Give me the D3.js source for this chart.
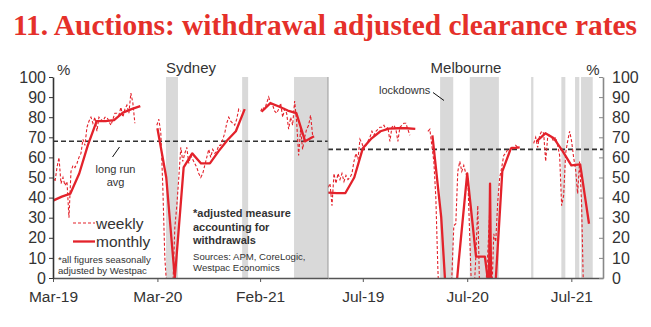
<!DOCTYPE html>
<html><head><meta charset="utf-8">
<script src="https://cdn.jsdelivr.net/npm/d3@7"></script>
<style>body{margin:0;background:#fff}svg{display:block}</style>
</head><body><svg id="c" width="651" height="327"></svg>
<script>
// ---------------- DATA ----------------
const weekStart = "2019-03-01";
// weekly withdrawal-adjusted clearance rate, % (null = no data)
const sydWeekly = [50,48,55,60,47,50,46,48,30,53,56,55,57,60,62,69,66,75,78,80,77,80,73,80,79,78,80,80,78,76,79,82,82,81,85,80,84,86,82,92,87,77,
  null,null,null,null,null,null,null,null,null,null,
  76,79,72,45,10,-5,-5,-5,-5,25,36,50,65,58,62,65,57,61,59,57,55,52,50,52,56,60,64,60,64,62,63,66,66,69,72,77,80,78,77,76,79,84,83,
  null,null,null,null,null,null,null,null,null,
  83,85,84,87,90,87,86,83,82,84,87,80,84,82,74,80,76,88,78,61,74,64,70,74,76,81,71];
const melWeekly = [45,47,36,52,47,52,49,52,48,51,49,50,52,58,62,59,69,67,64,66,68,70,73,71,73,74,75,75,76,74,75,68,75,76,74,68,75,76,77,77,74,71,
  null,null,null,null,null,null,null,null,
  73,74,66,58,40,5,-20,-20,-20,-20,-20,-20,0,26,27,53,58,53,56,52,50,20,-10,-10,10,36,-10,-20,-20,-5,12,34,-10,22,18,38,50,55,61,62,64,63,65,65,66,65,
  null,null,null,null,null,null,null,
  67,70,65,71,73,72,58,70,71,70,68,70,66,61,36,41,62,68,73,68,60,54,42,58,37,-10];
// monthly
const sydMonthly = [["2019-03-01",38.5],["2019-04-01",40.5],["2019-05-01",42],["2019-06-01",52],["2019-07-01",66],["2019-08-01",78],["2019-09-01",78],["2019-10-01",78.5],["2019-11-01",82.3],["2019-12-01",84],["2020-01-01",85.5],["2020-02-01",null],
  ["2020-03-01",74.5],["2020-04-01",50],["2020-05-01",0],["2020-06-01",55],["2020-07-01",62],["2020-08-01",57],["2020-09-01",57],["2020-10-01",63],["2020-11-01",68.5],["2020-12-01",73],["2021-01-01",84],["2021-02-01",null],
  ["2021-03-01",82.7],["2021-04-01",87],["2021-05-01",85.3],["2021-06-01",83.3],["2021-07-01",82],["2021-08-01",68],["2021-09-01",70.5]];
const melMonthly = [["2019-03-01",42.5],["2019-04-01",42.2],["2019-05-01",42.3],["2019-06-01",50],["2019-07-01",64.5],["2019-08-01",69.5],["2019-09-01",73],["2019-10-01",74.3],["2019-11-01",74.5],["2019-12-01",74.5],["2020-01-01",74.2],["2020-02-01",null],
  ["2020-03-01",71],["2020-04-01",30],["2020-05-01",-40],["2020-06-01",8],["2020-07-01",52],["2020-08-01",10.6],["2020-09-01",10.6],["2020-09-15",-5],["2020-09-19",47],["2020-09-23",-5],["2020-10-01",-20],["2020-11-01",53],["2020-12-01",64.5],["2021-01-01",65],["2021-02-01",null],
  ["2021-03-01",68],["2021-04-01",72],["2021-05-01",69.5],["2021-06-01",63],["2021-07-01",56],["2021-08-01",56.5],["2021-09-01",27]];
const sydLockdowns = [["2020-03-31","2020-05-12"],["2020-12-23","2021-01-13"],["2021-06-23","2021-10-20"]];
const melLockdowns = [["2020-03-28","2020-05-13"],["2020-07-10","2020-10-20"],["2021-02-10","2021-02-18"],["2021-05-27","2021-06-10"],["2021-07-14","2021-07-29"],["2021-08-04","2021-09-14"]];
const sydAvg = 68, melAvg = 64;
const yTicks = [0,10,20,30,40,50,60,70,80,90,100];
const sydTicks = ["2019-03-01","2020-03-01","2021-02-24"];
const melTicks = ["2019-07-01","2020-07-01","2021-07-01"];
const domainDates = ["2019-03-01","2021-10-20"];

// ---------------- CHART ----------------
const RED = "#e3222b", FONT = "'Liberation Sans', Arial, sans-serif", TXT = "#333";
const parse = d3.utcParse("%Y-%m-%d");
const svg = d3.select("#c");
const yTop = 77, yBot = 278, pw = 275;
const x = d3.scaleUtc().domain(domainDates.map(parse)).range([0, pw]);
const y = d3.scaleLinear().domain([0, 100]).range([yBot, yTop]);

svg.append("text").attr("x", 13).attr("y", 35).attr("textLength", 624).attr("lengthAdjust", "spacingAndGlyphs")
  .attr("font-family", "'Liberation Serif', 'DejaVu Serif', serif").attr("font-weight", "bold").attr("font-size", 30)
  .attr("fill", "#e5302a").text("11. Auctions: withdrawal adjusted clearance rates");

function panel(id, x0, weekly, monthly, bands, avg, ticks) {
  const g = svg.append("g").attr("transform", `translate(${x0},0)`);
  g.append("clipPath").attr("id", "clip" + id).append("rect").attr("x", 0).attr("y", yTop).attr("width", pw).attr("height", yBot - yTop);
  g.selectAll("rect.band").data(bands).join("rect").attr("class", "band")
    .attr("x", d => x(parse(d[0]))).attr("width", d => x(parse(d[1])) - x(parse(d[0])))
    .attr("y", yTop).attr("height", yBot - yTop).attr("fill", "#d9d9d9");
  g.append("line").attr("x1", 0).attr("x2", pw).attr("y1", y(avg)).attr("y2", y(avg))
    .attr("stroke", "#333").attr("stroke-width", 1.6).attr("stroke-dasharray", "5,3");
  const ws = parse(weekStart);
  const wd = weekly.map((v, i) => ({d: d3.utcDay.offset(ws, 7 * i), v}));
  const line = d3.line().defined(d => d.v != null).x(d => x(d.d)).y(d => y(d.v));
  const cg = g.append("g").attr("clip-path", `url(#clip${id})`);
  cg.append("path").attr("d", line(wd)).attr("fill", "none").attr("stroke", RED).attr("stroke-width", 1.1).attr("stroke-dasharray", "3,2");
  const md = monthly.map(m => ({d: parse(m[0]), v: m[1]}));
  cg.append("path").attr("d", line(md)).attr("fill", "none").attr("stroke", RED).attr("stroke-width", 2.3).attr("stroke-linejoin", "round");
  const ax = g.append("g").attr("transform", `translate(0,${yBot})`)
    .call(d3.axisBottom(x).tickValues(ticks.map(parse)).tickFormat(d3.utcFormat("%b-%y")).tickSize(4).tickSizeOuter(0).tickPadding(9));
  ax.select(".domain").attr("stroke", "#555").attr("stroke-width", 1.6);
  ax.selectAll(".tick line").attr("stroke", "#555");
  ax.selectAll("text").attr("font-family", FONT).attr("font-size", 15.5).attr("fill", TXT);
  return g;
}
panel("s", 53, sydWeekly, sydMonthly, sydLockdowns, sydAvg, sydTicks);
panel("m", 328, melWeekly, melMonthly, melLockdowns, melAvg, melTicks);

// divider between panels
svg.append("line").attr("x1", 328).attr("x2", 328).attr("y1", yTop).attr("y2", yBot).attr("stroke", "#999").attr("stroke-width", 1);

const la = svg.append("g").attr("transform", "translate(53,0)")
  .call(d3.axisLeft(y).tickValues(yTicks).tickSize(4).tickSizeOuter(0).tickPadding(3));
la.select(".domain").attr("stroke", "#333").attr("stroke-width", 1.6);
la.selectAll(".tick line").attr("stroke", "#333");
la.selectAll("text").attr("font-family", FONT).attr("font-size", 16).attr("fill", TXT);

const ra = svg.append("g").attr("transform", "translate(603,0)")
  .call(d3.axisRight(y).tickValues(yTicks).tickSizeInner(-4).tickSizeOuter(0).tickPadding(9));
ra.select(".domain").attr("stroke", "#888").attr("stroke-width", 1.6);
ra.selectAll(".tick line").attr("stroke", "#888");
ra.selectAll("text").attr("font-family", FONT).attr("font-size", 16).attr("fill", TXT);

function txt(xp, yp, s, size, opts = {}) {
  return svg.append("text").attr("x", xp).attr("y", yp).attr("font-family", FONT).attr("font-size", size)
    .attr("fill", opts.fill || TXT).attr("font-weight", opts.bold ? "bold" : "normal")
    .attr("text-anchor", opts.anchor || "start").text(s);
}
txt(57, 75, "%", 15);
txt(593, 75, "%", 15, {anchor: "middle"});
txt(191, 73, "Sydney", 15, {anchor: "middle"});
txt(466, 73, "Melbourne", 15, {anchor: "middle"});
txt(115.5, 173, "long run", 11, {anchor: "middle"});
txt(115.5, 186, "avg", 11, {anchor: "middle"});
svg.append("line").attr("x1", 112.5).attr("y1", 157).attr("x2", 119.5).attr("y2", 147).attr("stroke", "#111").attr("stroke-width", 1);
txt(379, 94, "lockdowns", 11);
svg.append("line").attr("x1", 433).attr("y1", 92.5).attr("x2", 444).attr("y2", 100.5).attr("stroke", "#111").attr("stroke-width", 1);

// legend
svg.append("line").attr("x1", 73).attr("x2", 95).attr("y1", 223).attr("y2", 223).attr("stroke", RED).attr("stroke-width", 1.1).attr("stroke-dasharray", "3,2");
svg.append("line").attr("x1", 73).attr("x2", 95).attr("y1", 241.5).attr("y2", 241.5).attr("stroke", RED).attr("stroke-width", 2.3);
txt(96, 228.5, "weekly", 15.5);
txt(96, 246.5, "monthly", 15.5);
txt(58, 262.5, "*all figures seasonally", 9.6);
txt(58, 273.5, "adjusted by Westpac", 9.6);
txt(193, 216.5, "*adjusted measure", 11, {bold: true});
txt(193, 230.5, "accounting for", 11, {bold: true});
txt(193, 244, "withdrawals", 11, {bold: true});
txt(193, 259.5, "Sources: APM, CoreLogic,", 9.6);
txt(193, 271, "Westpac Economics", 9.6);
</script></body></html>
